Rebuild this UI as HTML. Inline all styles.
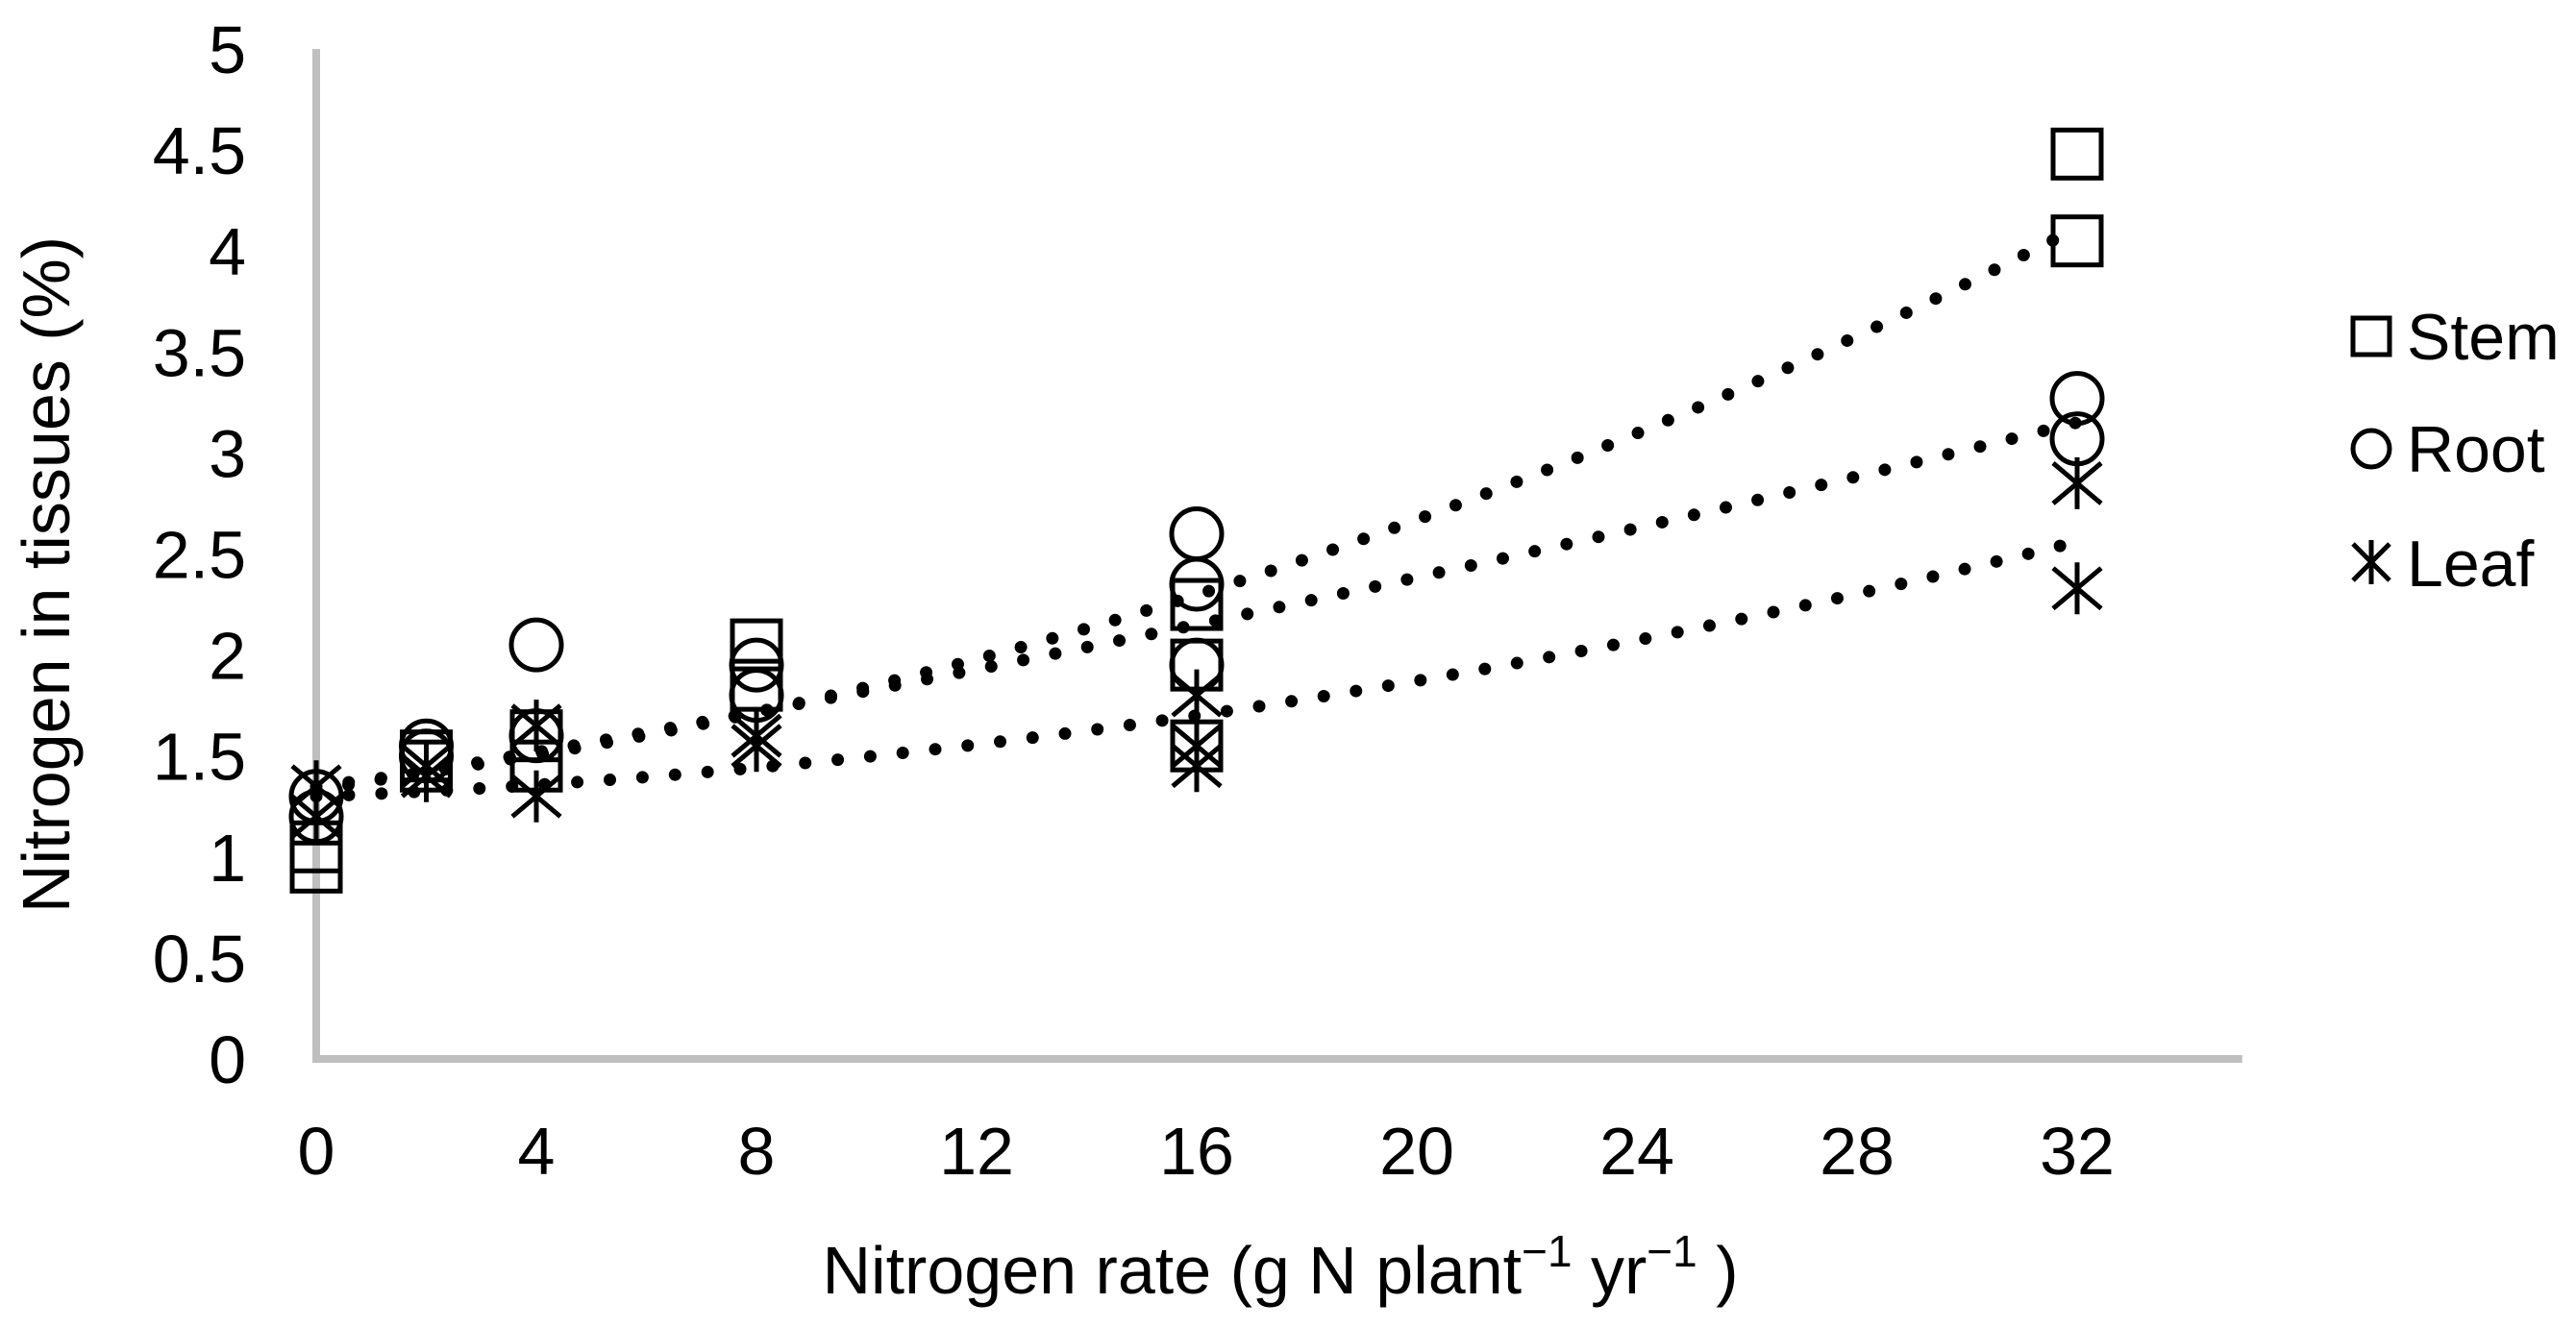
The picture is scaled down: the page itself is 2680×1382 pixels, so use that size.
<!DOCTYPE html>
<html><head><meta charset="utf-8"><style>
html,body{margin:0;padding:0;background:#fff;}
svg{display:block;font-family:"Liberation Sans",sans-serif;}
</style></head><body>
<svg id="chart" width="2680" height="1382" viewBox="0 0 2680 1382" xmlns="http://www.w3.org/2000/svg">
<g id="axes"></g>
<g id="trends"></g>
<g id="marks"></g>
<text transform="translate(72,598) rotate(-90)" text-anchor="middle" font-size="70" fill="#000">Nitrogen in tissues (%)</text>
<text x="1332" y="1346" text-anchor="middle" font-size="70" fill="#000">Nitrogen rate (g N plant<tspan dy="-28" font-size="46">−1</tspan><tspan dy="28"> yr</tspan><tspan dy="-28" font-size="46">−1</tspan><tspan dy="28"> )</tspan></text>
<g>
  <g>
    <rect x="2448" y="331" width="38" height="38" fill="none" stroke="#000" stroke-width="5"/>
    <text x="2504" y="374" font-size="68">Stem</text>
  </g>
  <g>
    <circle cx="2467" cy="467" r="19" fill="none" stroke="#000" stroke-width="5"/>
    <text x="2504" y="491" font-size="68">Root</text>
  </g>
  <g>
    <path d="M2448 566 L2486 604 M2486 566 L2448 604 M2467 562 L2467 608" stroke="#000" stroke-width="5"/>
    <text x="2504" y="610" font-size="68">Leaf</text>
  </g>
</g>
</svg>
<script>
const xTicks=[0,4,8,12,16,20,24,28,32];
const yTicks=[0,0.5,1,1.5,2,2.5,3,3.5,4,4.5,5];
const stemX=[0,0,2,2,4,4,8,8,16,16,16,32,32];
const stemY=[0.95,1.05,1.5,1.45,1.6,1.45,2.05,1.85,2.25,1.95,1.55,4.48,4.05];
const rootX=[0,0,2,2,4,4,8,8,16,16,16,32,32];
const rootY=[1.3,1.2,1.55,1.5,2.05,1.6,1.95,1.8,2.6,2.35,1.95,3.27,3.07];
const leafX=[0,0,2,2,4,4,8,8,16,16,16,32,32];
const leafY=[1.35,1.2,1.4,1.45,1.65,1.3,1.55,1.6,1.8,1.45,1.55,2.85,2.33];
const stemTrend=[1.35,0.032,0.0017];
const rootTrend=[1.33,0.0457,0.00035];
const leafTrend=[1.3,0.0106,0.0009];

const NS="http://www.w3.org/2000/svg";
const X=v=>329+v*(2161-329)/32;
const Y=v=>1102-v*(1102-51)/5;
function mk(tag,attrs,parent){const e=document.createElementNS(NS,tag);for(const k in attrs)e.setAttribute(k,attrs[k]);parent.appendChild(e);return e;}
const axes=document.getElementById('axes');
let a=mk('line',{x1:X(0),y1:Y(5),x2:X(0),y2:Y(0)+4,stroke:'#bfbfbf','stroke-width':8},axes);


a=mk('line',{x1:X(0)-4,y1:Y(0),x2:X(35),y2:Y(0),stroke:'#bfbfbf','stroke-width':8},axes);


yTicks.forEach(v=>{const t=mk('text',{x:256,y:Y(v)+25,'text-anchor':'end','font-size':70,fill:'#000'},axes);t.textContent=String(v);

});
xTicks.forEach(v=>{const t=mk('text',{x:X(v),y:1222,'text-anchor':'middle','font-size':70,fill:'#000'},axes);t.textContent=String(v);

});
const trends=document.getElementById('trends');
[[stemTrend,'stem'],[rootTrend,'root'],[leafTrend,'leaf']].forEach(([c,n])=>{
  let d='';for(let i=0;i<=64;i++){const x=i/2;const y=c[0]+c[1]*x+c[2]*x*x;d+=(i?'L':'M')+X(x).toFixed(1)+' '+Y(y).toFixed(1);}
  const p=mk('path',{d:d,fill:'none',stroke:'#000','stroke-width':13,'stroke-linecap':'round','stroke-dasharray':'0 34'},trends);
  
  
});
const marks=document.getElementById('marks');
stemX.forEach((x,i)=>{const r=mk('rect',{x:X(x)-25,y:Y(stemY[i])-25,width:50,height:50,fill:'none',stroke:'#000','stroke-width':5},marks);

});
rootX.forEach((x,i)=>{const c=mk('circle',{cx:X(x),cy:Y(rootY[i]),r:26,fill:'none',stroke:'#000','stroke-width':5},marks);

});
leafX.forEach((x,i)=>{const cx=X(x),cy=Y(leafY[i]);const p=mk('path',{d:`M${cx-25} ${cy-21}L${cx+25} ${cy+21}M${cx+25} ${cy-21}L${cx-25} ${cy+21}M${cx} ${cy-27}L${cx} ${cy+27}`,stroke:'#000','stroke-width':5},marks);

});
</script>
</body></html>
